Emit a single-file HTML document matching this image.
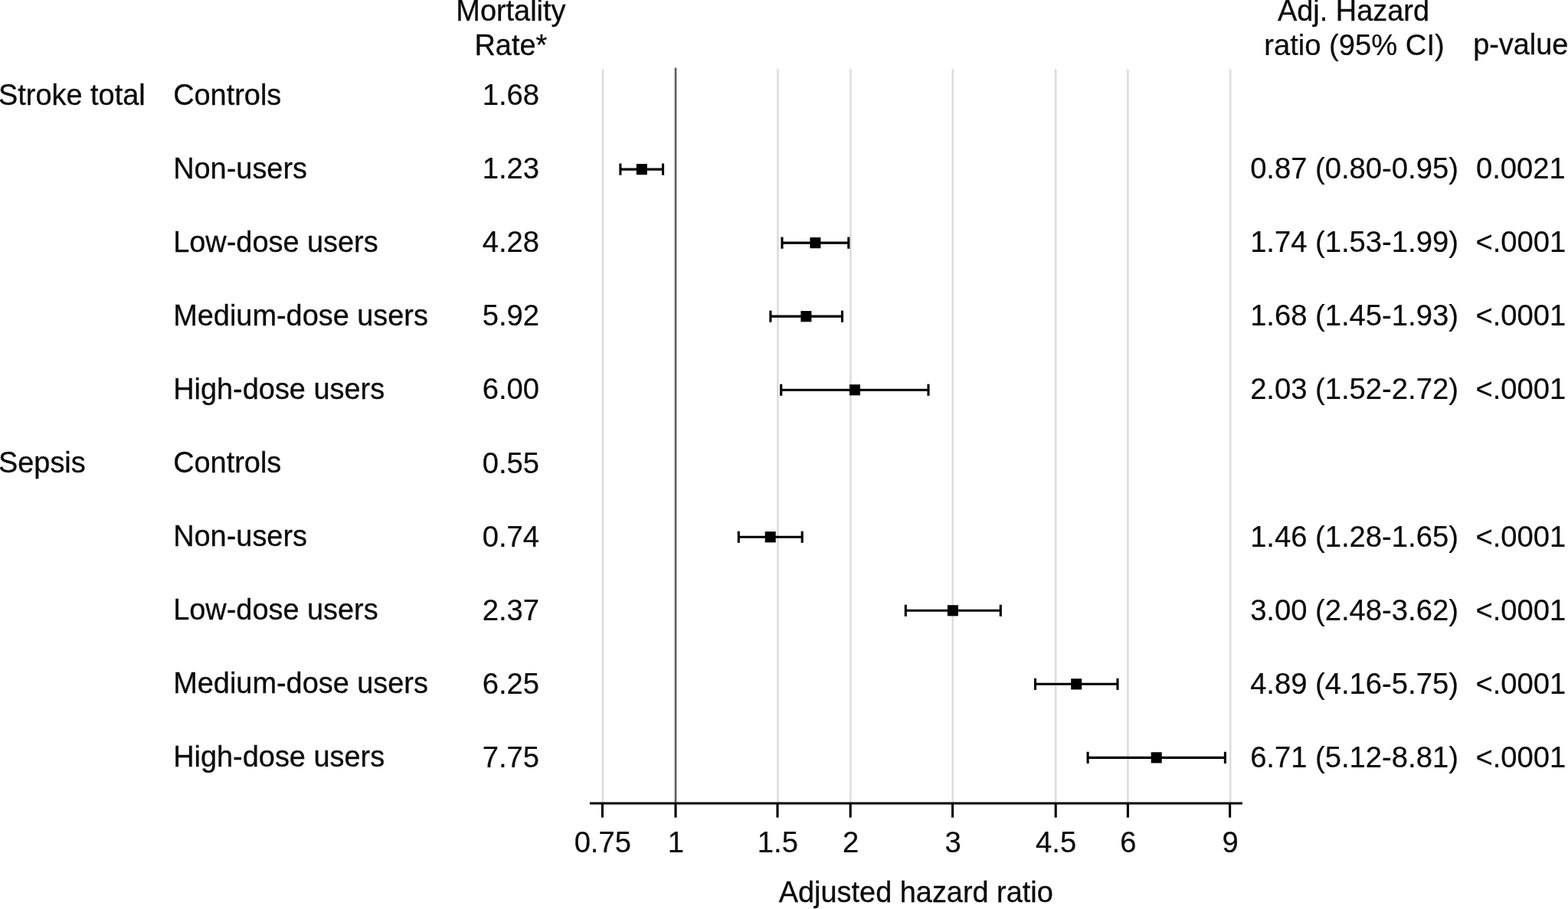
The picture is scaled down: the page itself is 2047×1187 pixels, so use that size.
<!DOCTYPE html>
<html lang="en"><head><meta charset="utf-8"><title>Forest plot: adjusted hazard ratio</title>
<style>
html,body{margin:0;padding:0;background:#fff;}
body{width:2047px;height:1187px;overflow:hidden;}
svg{display:block;}
text{font-family:"Liberation Sans", Arial, Helvetica, sans-serif;font-size:37.9px;fill:#0a0a0a;stroke:#0a0a0a;stroke-width:0.3px;stroke-linejoin:round;}
.m{text-anchor:middle;}
.n{font-size:38.2px;stroke-width:0.2px;}
.grid line{stroke:#dddddc;stroke-width:2.6;}
.ax line{stroke:#000;stroke-width:3.1;}
.ci line{stroke:#000;stroke-width:3.1;}
.ci rect{fill:#000;}
</style></head><body>
<svg role="img" aria-label="Forest plot of adjusted hazard ratios" width="2047" height="1187" viewBox="0 0 2047 1187">
<rect width="2047" height="1187" fill="#fff"/>
<g class="grid">
<line x1="787.00" y1="90.0" x2="787.00" y2="1049.0"/>
<line x1="1015.40" y1="90.0" x2="1015.40" y2="1049.0"/>
<line x1="1110.40" y1="90.0" x2="1110.40" y2="1049.0"/>
<line x1="1243.80" y1="90.0" x2="1243.80" y2="1049.0"/>
<line x1="1378.10" y1="90.0" x2="1378.10" y2="1049.0"/>
<line x1="1472.40" y1="90.0" x2="1472.40" y2="1049.0"/>
<line x1="1606.20" y1="90.0" x2="1606.20" y2="1049.0"/>
</g>
<line x1="882.00" y1="88.5" x2="882.00" y2="1049.0" stroke="#5a5a5a" stroke-width="2.6"/>
<g class="ax">
<line x1="769.9" y1="1049.0" x2="1621.9" y2="1049.0"/>
<line x1="786.40" y1="1049.0" x2="786.40" y2="1067.6"/>
<line x1="882.00" y1="1049.0" x2="882.00" y2="1067.6"/>
<line x1="1015.00" y1="1049.0" x2="1015.00" y2="1067.6"/>
<line x1="1110.20" y1="1049.0" x2="1110.20" y2="1067.6"/>
<line x1="1243.60" y1="1049.0" x2="1243.60" y2="1067.6"/>
<line x1="1378.20" y1="1049.0" x2="1378.20" y2="1067.6"/>
<line x1="1472.40" y1="1049.0" x2="1472.40" y2="1067.6"/>
<line x1="1605.60" y1="1049.0" x2="1605.60" y2="1067.6"/>
</g>
<text class="m n" x="786.80" y="1113.40">0.75</text>
<text class="m n" x="882.40" y="1113.40">1</text>
<text class="m n" x="1015.40" y="1113.40">1.5</text>
<text class="m n" x="1110.60" y="1113.40">2</text>
<text class="m n" x="1244.00" y="1113.40">3</text>
<text class="m n" x="1378.60" y="1113.40">4.5</text>
<text class="m n" x="1472.80" y="1113.40">6</text>
<text class="m n" x="1606.00" y="1113.40">9</text>
<text class="m" x="1195.8" y="1178.3">Adjusted hazard ratio</text>
<text class="m" x="666.9" y="26.8">Mortality</text>
<text class="m" x="666.9" y="71.6">Rate*</text>
<text class="m" x="1767.0" y="26.6">Adj. Hazard</text>
<text class="m n" x="1768.0" y="71.7">ratio (95% CI)</text>
<text class="m" x="1985.3" y="71.3">p-value</text>
<text x="-2.0" y="137.10">Stroke total</text>
<text x="226.2" y="137.10">Controls</text>
<text class="m n" x="666.90" y="137.30">1.68</text>
<text x="226.2" y="233.14">Non-users</text>
<text class="m n" x="666.90" y="233.34">1.23</text>
<g class="ci"><line x1="809.90" y1="221.10" x2="865.50" y2="221.10"/><line x1="809.90" y1="213.50" x2="809.90" y2="228.70"/><line x1="865.50" y1="213.50" x2="865.50" y2="228.70"/><rect x="830.80" y="214.00" width="14" height="14.2"/></g>
<text class="m n" x="1768.00" y="233.34">0.87 (0.80-0.95)</text>
<text class="m n" x="1985.40" y="233.34">0.0021</text>
<text x="226.2" y="329.18">Low-dose users</text>
<text class="m n" x="666.90" y="329.38">4.28</text>
<g class="ci"><line x1="1021.00" y1="317.13" x2="1107.80" y2="317.13"/><line x1="1021.00" y1="309.53" x2="1021.00" y2="324.73"/><line x1="1107.80" y1="309.53" x2="1107.80" y2="324.73"/><rect x="1057.40" y="310.03" width="14" height="14.2"/></g>
<text class="m n" x="1768.00" y="329.38">1.74 (1.53-1.99)</text>
<text class="m n" x="1985.40" y="329.38">&lt;.0001</text>
<text x="226.2" y="425.22">Medium-dose users</text>
<text class="m n" x="666.90" y="425.42">5.92</text>
<g class="ci"><line x1="1005.90" y1="413.16" x2="1099.50" y2="413.16"/><line x1="1005.90" y1="405.56" x2="1005.90" y2="420.76"/><line x1="1099.50" y1="405.56" x2="1099.50" y2="420.76"/><rect x="1045.40" y="406.06" width="14" height="14.2"/></g>
<text class="m n" x="1768.00" y="425.42">1.68 (1.45-1.93)</text>
<text class="m n" x="1985.40" y="425.42">&lt;.0001</text>
<text x="226.2" y="521.26">High-dose users</text>
<text class="m n" x="666.90" y="521.46">6.00</text>
<g class="ci"><line x1="1019.70" y1="509.19" x2="1212.00" y2="509.19"/><line x1="1019.70" y1="501.59" x2="1019.70" y2="516.79"/><line x1="1212.00" y1="501.59" x2="1212.00" y2="516.79"/><rect x="1109.00" y="502.09" width="14" height="14.2"/></g>
<text class="m n" x="1768.00" y="521.46">2.03 (1.52-2.72)</text>
<text class="m n" x="1985.40" y="521.46">&lt;.0001</text>
<text x="-2.0" y="617.30">Sepsis</text>
<text x="226.2" y="617.30">Controls</text>
<text class="m n" x="666.90" y="617.50">0.55</text>
<text x="226.2" y="713.34">Non-users</text>
<text class="m n" x="666.90" y="713.54">0.74</text>
<g class="ci"><line x1="964.30" y1="701.25" x2="1047.20" y2="701.25"/><line x1="964.30" y1="693.65" x2="964.30" y2="708.85"/><line x1="1047.20" y1="693.65" x2="1047.20" y2="708.85"/><rect x="998.70" y="694.15" width="14" height="14.2"/></g>
<text class="m n" x="1768.00" y="713.54">1.46 (1.28-1.65)</text>
<text class="m n" x="1985.40" y="713.54">&lt;.0001</text>
<text x="226.2" y="809.38">Low-dose users</text>
<text class="m n" x="666.90" y="809.58">2.37</text>
<g class="ci"><line x1="1182.30" y1="797.28" x2="1306.30" y2="797.28"/><line x1="1182.30" y1="789.68" x2="1182.30" y2="804.88"/><line x1="1306.30" y1="789.68" x2="1306.30" y2="804.88"/><rect x="1236.90" y="790.18" width="14" height="14.2"/></g>
<text class="m n" x="1768.00" y="809.58">3.00 (2.48-3.62)</text>
<text class="m n" x="1985.40" y="809.58">&lt;.0001</text>
<text x="226.2" y="905.42">Medium-dose users</text>
<text class="m n" x="666.90" y="905.62">6.25</text>
<g class="ci"><line x1="1351.50" y1="893.31" x2="1459.00" y2="893.31"/><line x1="1351.50" y1="885.71" x2="1351.50" y2="900.91"/><line x1="1459.00" y1="885.71" x2="1459.00" y2="900.91"/><rect x="1398.20" y="886.21" width="14" height="14.2"/></g>
<text class="m n" x="1768.00" y="905.62">4.89 (4.16-5.75)</text>
<text class="m n" x="1985.40" y="905.62">&lt;.0001</text>
<text x="226.2" y="1001.46">High-dose users</text>
<text class="m n" x="666.90" y="1001.66">7.75</text>
<g class="ci"><line x1="1420.10" y1="989.34" x2="1599.40" y2="989.34"/><line x1="1420.10" y1="981.74" x2="1420.10" y2="996.94"/><line x1="1599.40" y1="981.74" x2="1599.40" y2="996.94"/><rect x="1502.70" y="982.24" width="14" height="14.2"/></g>
<text class="m n" x="1768.00" y="1001.66">6.71 (5.12-8.81)</text>
<text class="m n" x="1985.40" y="1001.66">&lt;.0001</text>
</svg></body></html>
